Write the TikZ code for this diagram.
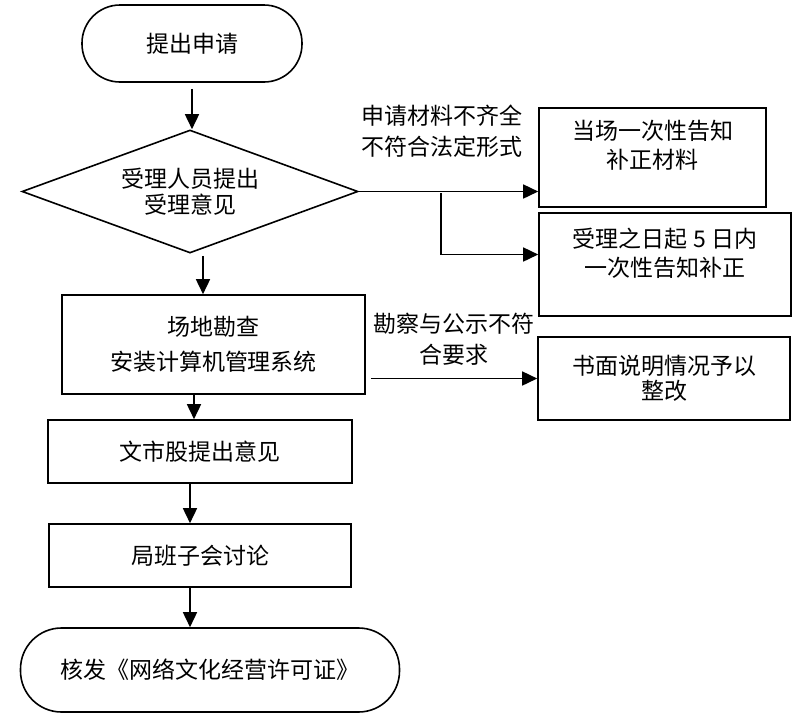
\documentclass[tikz,border=0pt]{standalone}
\usepackage{fontspec}
\usepackage{tikz}
\usetikzlibrary{arrows.meta,positioning,calc,shapes.geometric}
\newfontfamily\cjk{Noto Sans CJK SC}
\definecolor{Ink}{RGB}{0,0,0}
\tikzset{
  terminal/.style={draw=Ink,line width=1.6pt,align=center,font=\cjk\fontsize{23}{28}\selectfont},
  decision/.style={diamond,draw=Ink,line width=1.6pt,aspect=2.7,inner sep=0pt,align=center,font=\cjk\fontsize{23}{26}\selectfont},
  stepbox/.style={draw=Ink,line width=1.6pt,align=center,inner sep=0pt,font=\cjk\fontsize{23}{29}\selectfont},
  notelabel/.style={align=center,inner sep=0pt,font=\cjk\fontsize{23}{31}\selectfont},
  arr/.style={-{Triangle[length=15pt,width=14pt]},line width=1.6pt,draw=Ink}
}
\begin{document}
\begin{tikzpicture}[x=1pt,y=-1pt]
\useasboundingbox (0,0) rectangle (804,716);
\node[terminal,rounded corners=38pt,minimum width=220pt,minimum height=77pt] (apply) at (192,43.5) {提出申请};
\node[decision,minimum width=336pt,minimum height=123pt] (accept) at (190,191.5) {受理人员提出\\受理意见};
\node[stepbox,minimum width=227pt,minimum height=99pt] (notice1) at (652.5,157.5) {当场一次性告知\\补正材料\\[-2pt]};
\node[stepbox,minimum width=252pt,minimum height=103pt] (notice2) at (665,264.5) {受理之日起 5 日内\\一次性告知补正\\[-4pt]};
\node[stepbox,minimum width=303pt,minimum height=99pt] (survey) at (213.5,344.5) {场地勘查\\[6pt]安装计算机管理系统};
\node[stepbox,minimum width=252pt,minimum height=83pt,font=\cjk\fontsize{23}{25}\selectfont] (rectify) at (664,378.5) {书面说明情况予以\\整改};
\node[stepbox,minimum width=304pt,minimum height=63pt] (opinion) at (200,451.5) {文市股提出意见};
\node[stepbox,minimum width=302pt,minimum height=63pt] (meeting) at (200,555.5) {局班子会讨论};
\node[terminal,rounded corners=41pt,minimum width=379pt,minimum height=84pt] (license) at (210,670) {核发《网络文化经营许可证》};
\node[notelabel] (lack) at (442,131) {申请材料不齐全\\不符合法定形式};
\node[notelabel] (unfit) at (454,339) {勘察与公示不符\\合要求};
\coordinate (fork) at (441,193);
\draw[arr] ([yshift=-6pt]apply.south) -- (apply.south |- accept.north);
\draw[arr] (accept.east) -- (accept.east -| notice1.west);
\draw[arr] (fork) |- ([yshift=10pt]notice2.west);
\draw[arr] ([xshift=13pt,yshift=-2pt]accept.south) -- ([xshift=13pt]accept.south |- survey.north);
\draw[arr] ([xshift=5pt]survey.east |- rectify.west) -- (rectify.west);
\draw[arr] ([xshift=-6pt]opinion.north |- survey.south) -- ([xshift=-6pt]opinion.north);
\draw[arr] ([xshift=-10pt]opinion.south) -- ([xshift=-10pt]meeting.north);
\draw[arr] ([xshift=-10pt]meeting.south) -- ([xshift=-10pt]meeting.south |- license.north);
\end{tikzpicture}
\end{document}
